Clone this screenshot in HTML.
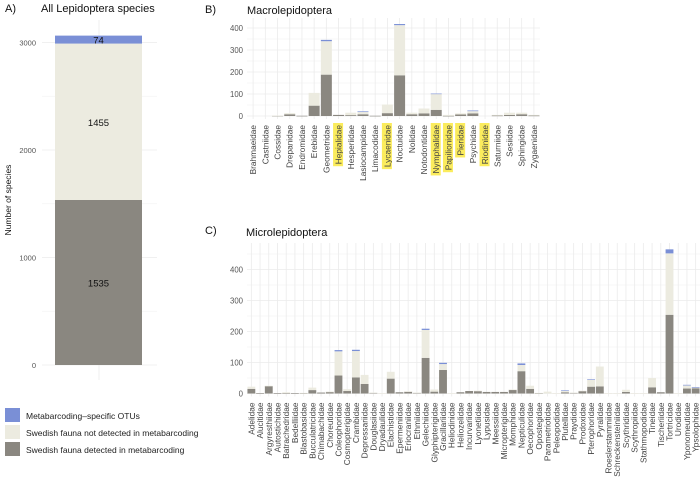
<!DOCTYPE html>
<html><head><meta charset="utf-8"><style>
body{margin:0;background:#fff;width:700px;height:486px;overflow:hidden;font-family:"Liberation Sans",sans-serif}
svg text{font-family:"Liberation Sans",sans-serif}
</style></head><body>
<svg id="fig" width="700" height="486" viewBox="0 0 700 486" xmlns="http://www.w3.org/2000/svg">
<g id="legend">
 <rect x="5" y="408" width="15" height="14" fill="#7a8fd6"/>
 <text x="26" y="419" font-size="8.5" fill="#222">Metabarcoding–specific OTUs</text>
 <rect x="5" y="425" width="15" height="14" fill="#ecebe0"/>
 <text x="26" y="436" font-size="8.5" fill="#222">Swedish fauna not detected in metabarcoding</text>
 <rect x="5" y="442" width="15" height="14" fill="#8a8780"/>
 <text x="26" y="453" font-size="8.5" fill="#222">Swedish fauna detected in metabarcoding</text>
</g>
</svg>
<script>
const totalValues=[1535,1455,74];
const macroCats=["Brahmaeidae","Castniidae","Cossidae","Drepanidae","Endromidae","Erebidae","Geometridae","Hepialidae","Hesperiidae","Lasiocampidae","Limacodidae","Lycaenidae","Noctuidae","Nolidae","Notodontidae","Nymphalidae","Papilionidae","Pieridae","Psychidae","Riodinidae","Saturniidae","Sesiidae","Sphingidae","Zygaenidae"];
const macroDetected=[0,0,1,8,1,47,188,5,4,8,1,13,185,8,12,28,1,7,12,0,2,5,8,2];
const macroNotDetected=[0,0,1,5,0,58,152,0,11,10,0,39,228,7,22,72,4,5,10,0,3,10,7,3];
const macroOTU=[0,0,0,0,0,0,6,0,0,3,0,0,5,0,0,2,0,0,3,0,0,0,0,0];
const macroHighlight=["Hepialidae","Lycaenidae","Nymphalidae","Papilionidae","Pieridae","Riodinidae"];
const microCats=["Adelidae","Alucitidae","Argyresthiidae","Autostichidae","Batrachedridae","Bedelliidae","Blastobasidae","Bucculatricidae","Chimabachidae","Choreutidae","Coleophoridae","Cosmopterigidae","Crambidae","Depressariidae","Douglasiidae","Dryadaulidae","Elachistidae","Epermeniidae","Eriocraniidae","Ethmiidae","Gelechiidae","Glyphipterigidae","Gracillariidae","Heliodinidae","Heliozelidae","Incurvariidae","Lyonetiidae","Lypusidae","Meessiidae","Micropterigidae","Momphidae","Nepticulidae","Oecophoridae","Opostegidae","Parametriotidae","Peleopodidae","Plutellidae","Praydidae","Prodoxidae","Pterophoridae","Pyralidae","Roeslerstammiidae","Schreckensteiniidae","Scythrididae","Scythropiidae","Stathmopodidae","Tineidae","Tischeriidae","Tortricidae","Urodidae","Yponomeutidae","Ypsolophidae"];
const microDetected=[15,1,24,1,1,1,1,11,3,5,58,8,52,31,2,0,48,4,6,2,115,6,76,0,4,8,8,5,5,5,12,72,15,1,0,0,4,2,8,22,23,0,0,5,0,0,20,4,254,0,16,17];
const microNotDetected=[7,0,1,0,3,0,1,8,0,1,78,6,85,29,1,1,22,0,1,1,90,7,19,1,0,0,1,0,0,0,1,20,10,1,6,1,5,1,1,23,64,1,1,7,1,1,30,0,198,1,10,2];
const microOTU=[0,0,0,0,0,0,0,0,0,0,4,0,4,0,0,0,0,0,0,0,4,0,4,0,0,0,0,0,0,0,0,5,0,0,0,0,1,0,0,1,0,0,0,0,0,0,0,0,13,0,2,2];
const macroTicks=[0,100,200,300,400];
const microTicks=[0,100,200,300,400];
const totalTicks=[0,1000,2000,3000];
const COLORS=["#8a8780","#ecebe0","#7a8fd6"];
const svg=document.getElementById('fig');
const NS="http://www.w3.org/2000/svg";
function mk(tag,attrs,parent){const e=document.createElementNS(NS,tag);for(const k in attrs)e.setAttribute(k,attrs[k]);(parent||svg).appendChild(e);return e;}
function txt(s,attrs,parent){const e=mk('text',attrs,parent);e.textContent=s;return e;}

(function(){
 const g=mk('g',{});
 
 
 const y=v=>365-v*0.1075;
 const L=42,R=157;
 for(let v=0;v<=3000;v+=500){const l=mk('line',{x1:L,x2:R,y1:y(v),y2:y(v),stroke:v%1000?'#f4f4f4':'#ebebeb','stroke-width':0.8},g);}
 mk('line',{x1:99,x2:99,y1:20,y2:380,stroke:'#ebebeb','stroke-width':0.8},g);
 totalTicks.forEach(v=>{const t=txt(String(v),{x:36,y:y(v)+3,'font-size':7.5,fill:'#555','text-anchor':'end'},g);});
 let cum=0;
 totalValues.forEach((v,i)=>{const r=mk('rect',{x:55,width:87,y:y(cum+v),height:y(cum)-y(cum+v),fill:COLORS[i]},g);
  const t=txt(String(v),{x:98.5,y:y(cum+v/2)+4,'font-size':9.5,fill:'#111','text-anchor':'middle'},g);cum+=v;});
 const a=txt('A)',{x:5,y:12,'font-size':11,fill:'#111'},g);
 const ti=txt('All Lepidoptera species',{x:41,y:12,'font-size':11,fill:'#111'},g);
 const yl=txt('Number of species',{x:0,y:0,'font-size':8.5,fill:'#111','text-anchor':'middle',transform:'translate(11,200) rotate(-90)'},g);
})();

function panel(name,cats,det,nd,otu,ticks,opt){
 const g=mk('g',{});
 
 
 const {L,R,T,y0,ppu,hl,ly0}=opt;
 const y=v=>y0-v*ppu;
 const n=cats.length,step=(R-L)/n;
 const x=i=>L+step*(i+0.5);
 for(let v=0;v<=ticks[ticks.length-1]+50;v+=50){const yy=y(v);if(yy<T)break;const l=mk('line',{x1:L,x2:R,y1:yy,y2:yy,stroke:v%100?'#f4f4f4':'#ebebeb','stroke-width':0.8},g);}
 cats.forEach((c,i)=>{const l=mk('line',{x1:x(i),x2:x(i),y1:T,y2:y0+3,stroke:'#ebebeb','stroke-width':0.8},g);});
 ticks.forEach(v=>{const t=txt(String(v),{x:L-4,y:y(v)+3,'font-size':7.8,fill:'#555','text-anchor':'end'},g);});
 const bw=step*0.9;
 cats.forEach((c,i)=>{
  const vals=[det[i],nd[i],otu[i]];let cum=0;
  vals.forEach((v,k)=>{if(v>0){const r=mk('rect',{x:x(i)-bw/2,width:bw,y:y(cum+v),height:Math.max(v*ppu,0.6),fill:COLORS[k]},g);}cum+=v;});
  const lx=x(i),ly=y0+ly0;
  let hr=null;
  if(hl&&hl.includes(c)){hr=mk('rect',{x:lx-5.5,y:ly-2,width:10,height:10,fill:'#fbec5d'},g);}
  const t=txt(c,{x:0,y:0,'font-size':8.3,fill:'#444','text-anchor':'end',transform:`translate(${lx+3},${ly}) rotate(-90)`},g);
  
  if(hr){hr.setAttribute('height',t.getComputedTextLength()+4);}
 });
 return g;
}
const gb=panel('panel-b',macroCats,macroDetected,macroNotDetected,macroOTU,macroTicks,{L:247,R:540,T:18,y0:116,ppu:0.22,hl:macroHighlight,ly0:9});
const bt=txt('B)',{x:205,y:13,'font-size':11,fill:'#111'},gb);
const btt=txt('Macrolepidoptera',{x:247,y:14,'font-size':11,fill:'#111'},gb);
const gc=panel('panel-c',microCats,microDetected,microNotDetected,microOTU,microTicks,{L:247,R:700,T:243,y0:393.5,ppu:0.31,ly0:9});
const ct=txt('C)',{x:205,y:234,'font-size':11,fill:'#111'},gc);
const ctt=txt('Microlepidoptera',{x:246,y:236,'font-size':11,fill:'#111'},gc);
</script>
</body></html>
